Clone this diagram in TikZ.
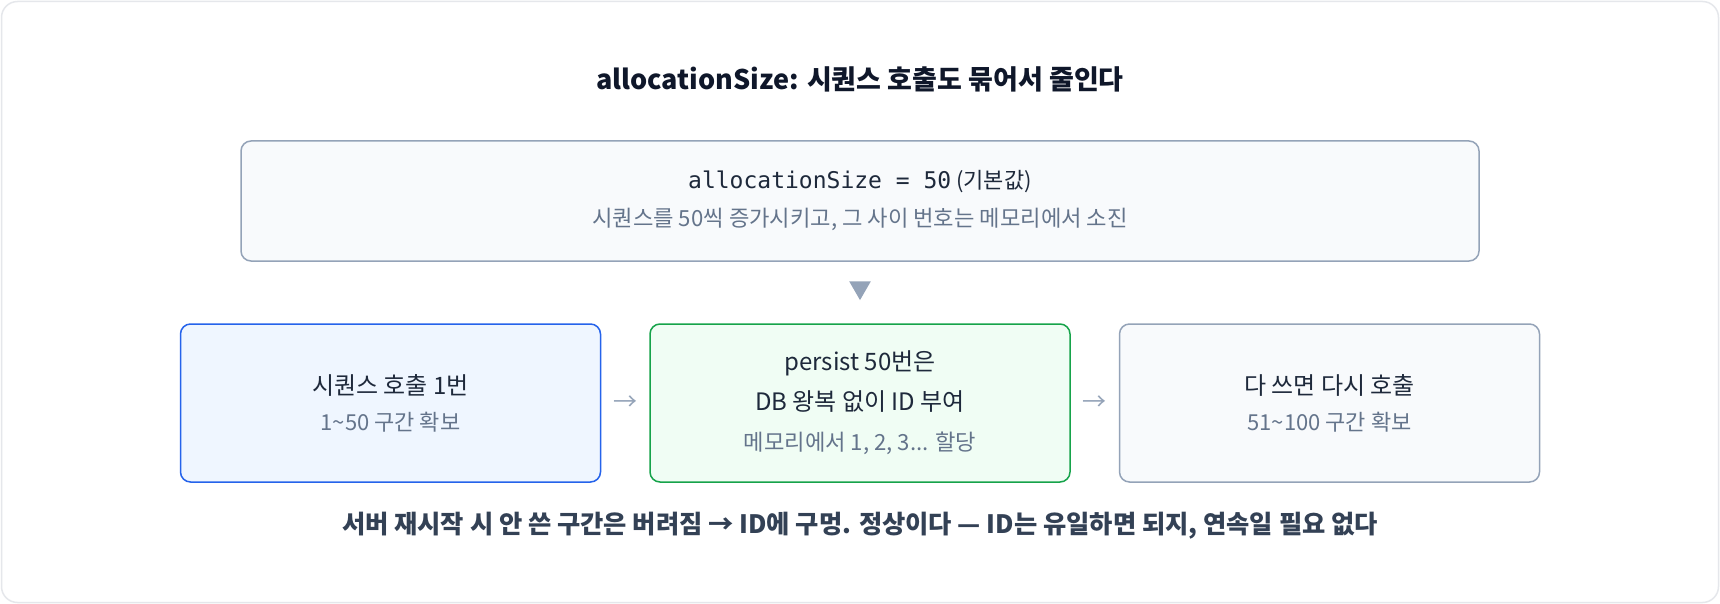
\documentclass[tikz,border=0pt]{standalone}
\usepackage{fontspec}
\setmainfont{Noto Sans CJK KR}
\setmonofont{DejaVu Sans Mono}
\usepackage{xcolor}
\usepackage{tikz}
\usetikzlibrary{positioning, shapes.geometric}
\definecolor{ink}{HTML}{0F172A}
\definecolor{txt}{HTML}{1E293B}
\definecolor{sub}{HTML}{64748B}
\definecolor{notecol}{HTML}{334155}
\definecolor{slateline}{HTML}{94A3B8}
\definecolor{slatefill}{HTML}{F8FAFC}
\definecolor{blueline}{HTML}{2563EB}
\definecolor{bluefill}{HTML}{EFF6FF}
\definecolor{greenline}{HTML}{16A34A}
\definecolor{greenfill}{HTML}{F0FDF4}
\definecolor{framecol}{HTML}{E5E7EB}

\begin{document}
\begin{tikzpicture}[x=1pt,y=-1pt,node distance=48pt,
	box/.style={draw, rounded corners=10pt, line width=1.5pt, minimum width=420pt, minimum height=158pt, align=center, text=txt, font=\fontsize{24}{36}\selectfont},
	slatebox/.style={box, draw=slateline, fill=slatefill},
	arr/.style={text=slateline, font=\fontsize{24}{26}\selectfont},
	tri/.style={regular polygon, regular polygon sides=3, shape border rotate=180, fill=slateline, inner sep=0pt, minimum size=25pt}]
	\useasboundingbox (0,0) rectangle (1720,604);
	\draw[framecol, line width=1.5pt, fill=white, rounded corners=16pt] (1.5,1.5) rectangle (1718.5,602.5);
	\node[font=\bfseries\fontsize{27}{30}\selectfont, text=ink] (title) at (860,79) {allocationSize: 시퀀스 호출도 묶어서 줄인다};
	\node[slatebox, minimum width=1238pt, minimum height=120pt, font=\fontsize{22}{38}\selectfont] (top) at (860,201)
		{{\ttfamily\fontsize{23}{26}\selectfont allocationSize = 50} (기본값)\\
		{\fontsize{22.2}{24}\selectfont\color{sub}시퀀스를 50씩 증가시키고, 그 사이 번호는 메모리에서 소진}};
	\node[box, draw=greenline, fill=greenfill, font=\fontsize{24}{40}\selectfont] (b2) at (860,403)
		{persist 50번은\\DB 왕복 없이 ID 부여\\{\fontsize{22.2}{24}\selectfont\color{sub}메모리에서 1, 2, 3... 할당}};
	\node[box, draw=blueline, fill=bluefill] (b1) [left=of b2]
		{시퀀스 호출 1번\\{\fontsize{22}{24}\selectfont\color{sub}1\textasciitilde 50 구간 확보}};
	\node[slatebox] (b3) [right=of b2]
		{다 쓰면 다시 호출\\{\fontsize{22}{24}\selectfont\color{sub}51\textasciitilde 100 구간 확보}};
	\path (top.south) -- node[tri, pos=.42] (down) {} (b2.north);
	\path (b1) -- node[arr] {→} (b2)
		(b2) -- node[arr] {→} (b3);
	\node[font=\bfseries\fontsize{25.3}{28}\selectfont, text=notecol] (note) at (860,526) {서버 재시작 시 안 쓴 구간은 버려짐 → ID에 구멍. 정상이다 — ID는 유일하면 되지, 연속일 필요 없다};
\end{tikzpicture}
\end{document}
